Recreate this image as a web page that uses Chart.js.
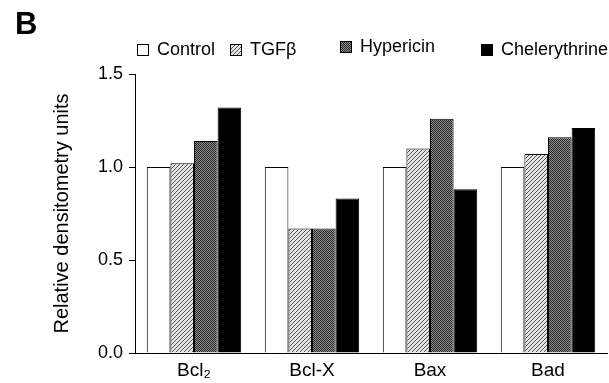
<!DOCTYPE html>
<html>
<head>
<meta charset="utf-8">
<script src="https://cdn.jsdelivr.net/npm/chart.js@4.4.0/dist/chart.umd.min.js"></script>
<style>
  html, body { margin: 0; padding: 0; background: #fff; }
  #wrap { width: 609px; height: 383px; }
</style>
</head>
<body>
<div id="wrap"><canvas id="bars"></canvas></div>
<script>
// data (relative to control = 1.0)
const categories = ['Bcl\u2082', 'Bcl-X', 'Bax', 'Bad'];
const treatments = ['Control', 'TGF\u03b2', 'Hypericin', 'Chelerythrine'];
const control = [1.0, 1.0, 1.0, 1.0];
const tgfb = [1.02, 0.67, 1.10, 1.07];
const hypericin = [1.14, 0.67, 1.26, 1.16];
const chelerythrine = [1.32, 0.83, 0.88, 1.21];
const yTicks = [0.0, 0.5, 1.0, 1.5];

const FONT = '"Liberation Sans", Arial, Helvetica, sans-serif';

function makePattern(w, h, draw) {
    const c = document.createElement('canvas');
    c.width = w; c.height = h;
    const g = c.getContext('2d');
    draw(g);
    return g.createPattern(c, 'repeat');
}

// light diagonal hatching (TGFb)
const hatch = makePattern(4, 4, (g) => {
    g.fillStyle = '#e4e4e4';
    g.fillRect(0, 0, 4, 4);
    g.strokeStyle = '#555';
    g.lineWidth = 1;
    g.beginPath();
    g.moveTo(0, 4); g.lineTo(4, 0);
    g.moveTo(-1, 1); g.lineTo(1, -1);
    g.moveTo(3, 5); g.lineTo(5, 3);
    g.stroke();
});

// dark checker stipple (Hypericin)
const stipple = makePattern(2, 2, (g) => {
    g.fillStyle = '#8c8c8c';
    g.fillRect(0, 0, 2, 2);
    g.fillStyle = '#2a2a2a';
    g.fillRect(0, 0, 1, 1);
    g.fillRect(1, 1, 1, 1);
});

const fills = ['#ffffff', hatch, stipple, '#000000'];
const series = [control, tgfb, hypericin, chelerythrine];

// panel letter + legend row drawn above the plot
const legendX = [137, 230, 340, 481];
const legendY = [50, 50, 47, 50];
const figLegend = {
    id: 'figLegend',
    afterDraw(chart) {
        const ctx = chart.ctx;
        ctx.save();
        ctx.fillStyle = '#000';
        ctx.textBaseline = 'alphabetic';
        ctx.font = 'bold 31px ' + FONT;
        ctx.fillText('B', 15, 34);
        ctx.font = '18px ' + FONT;
        ctx.textBaseline = 'middle';
        chart.data.datasets.forEach((ds, i) => {
            const x = legendX[i], y = legendY[i];
            ctx.fillStyle = ds.backgroundColor;
            ctx.fillRect(x, y - 6, 12, 12);
            ctx.strokeStyle = '#000';
            ctx.lineWidth = 1;
            ctx.strokeRect(x + 0.5, y - 5.5, 11, 11);
            ctx.fillStyle = '#000';
            ctx.fillText(ds.label, x + 20, y);
        });
        ctx.restore();
    }
};

document.addEventListener('DOMContentLoaded', (event) => {
    const ctx = document.getElementById('bars').getContext('2d');
    new Chart(ctx, {
        type: 'bar',
        data: {
            labels: categories,
            datasets: treatments.map((name, i) => ({
                label: name,
                data: series[i],
                backgroundColor: fills[i],
                borderColor: '#000',
                borderWidth: 1,
                borderSkipped: 'bottom',
                categoryPercentage: 0.8,
                barPercentage: 1.0
            }))
        },
        options: {
            responsive: true,
            maintainAspectRatio: false,
            animation: false,
            layout: { padding: { top: 74, right: 2, left: 0, bottom: 0 } },
            plugins: {
                legend: { display: false },
                tooltip: { enabled: false }
            },
            scales: {
                x: {
                    grid: { display: false, drawTicks: false },
                    border: { display: true, color: '#000', width: 1 },
                    ticks: { color: '#000', padding: 6, font: { family: FONT, size: 19 } },
                    afterFit: (scale) => { scale.height = 30; }
                },
                y: {
                    min: yTicks[0],
                    max: yTicks[yTicks.length - 1],
                    afterBuildTicks: (scale) => { scale.ticks = yTicks.map(v => ({ value: v })); },
                    grid: { display: true, drawOnChartArea: false, drawTicks: true, tickLength: 6, color: '#000' },
                    border: { display: true, color: '#000', width: 1 },
                    ticks: {
                        color: '#000',
                        padding: 6,
                        font: { family: FONT, size: 18 },
                        callback: (v) => Number(v).toFixed(1)
                    },
                    title: {
                        display: true,
                        text: 'Relative densitometry units',
                        color: '#000',
                        font: { family: FONT, size: 20 },
                        padding: { top: 50, bottom: 0 }
                    },
                    afterFit: (scale) => { scale.width = 135; }
                }
            }
        },
        plugins: [figLegend]
    });
});
</script>
</body>
</html>
